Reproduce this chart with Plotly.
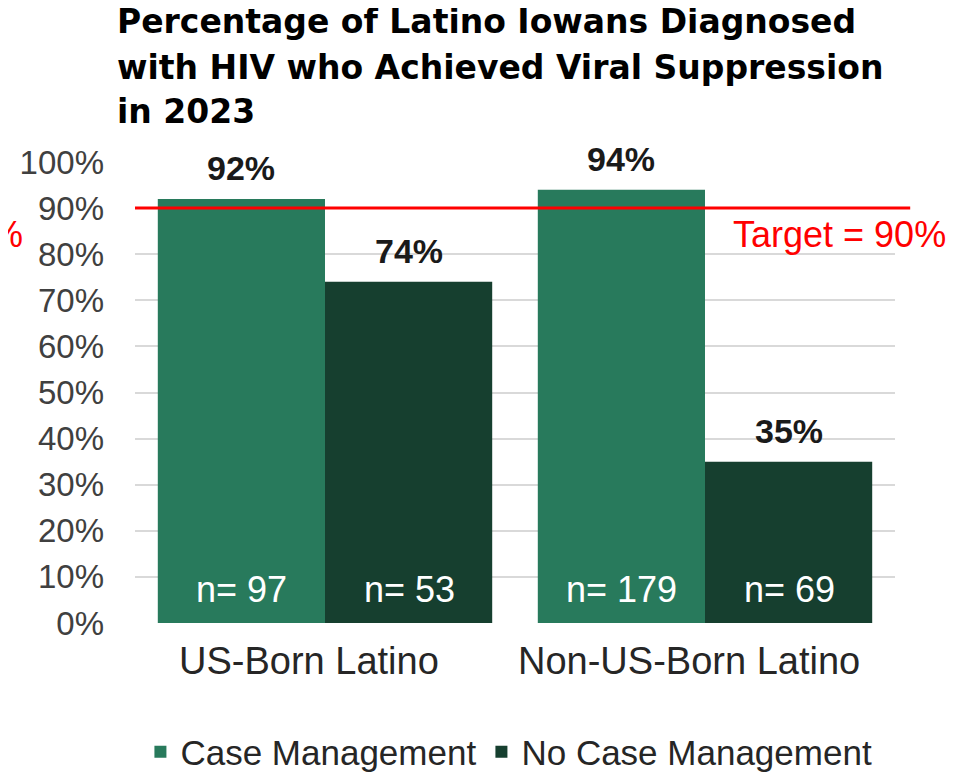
import plotly.graph_objects as go

categories = ['US-Born Latino', 'Non-US-Born Latino']
case_mgmt = [92, 94]
no_case_mgmt = [74, 35]
case_mgmt_n = [97, 179]
no_case_mgmt_n = [53, 69]
target = 90
title_lines = ['Percentage of Latino Iowans Diagnosed',
               'with HIV who Achieved Viral Suppression',
               'in 2023']

green = '#287a5c'
dark_green = '#163f2f'

fig = go.Figure()

fig.add_trace(go.Bar(x=categories, y=case_mgmt, name='Case Management',
                     marker_color=green, marker_line_width=0))
fig.add_trace(go.Bar(x=categories, y=no_case_mgmt, name='No Case Management',
                     marker_color=dark_green, marker_line_width=0))

# value labels above the bars and n= labels inside at the bottom
annotations = []
for vals, ns, shift in [(case_mgmt, case_mgmt_n, -84), (no_case_mgmt, no_case_mgmt_n, 84)]:
    for cat, v, n in zip(categories, vals, ns):
        annotations.append(dict(x=cat, y=v, xref='x', yref='y', text=f'<b>{v}%</b>',
                                showarrow=False, xshift=shift, yshift=31,
                                font=dict(size=34, color='#1a1a1a')))
        annotations.append(dict(x=cat, y=0, xref='x', yref='y', text=f'n= {n}',
                                showarrow=False, xshift=shift, yshift=34,
                                font=dict(size=36, color='white')))

# category labels sit a little left of the group centres
for cat in categories:
    annotations.append(dict(x=cat, y=0, xref='x', yref='y', text=cat, showarrow=False,
                            xshift=-16, yshift=-38, yanchor='middle',
                            font=dict(size=38, color='#262626')))

# title, one annotation per line
for line, ypos in zip(title_lines, [1.305, 1.205, 1.11]):
    annotations.append(dict(x=-0.026, y=ypos, xref='paper', yref='paper', text=f'<b>{line}</b>',
                            showarrow=False, xanchor='left', yanchor='middle',
                            font=dict(size=33, color='black', family='DejaVu Sans')))

# target line label
annotations.append(dict(x=1.07, y=target, xref='paper', yref='y', text='Target = 90%',
                        showarrow=False, xanchor='right', yshift=-26,
                        font=dict(size=36, color='#ff0000')))
# cut-off piece of text on the left edge
annotations.append(dict(x=-0.145, y=target, xref='paper', yref='y', text='%',
                        showarrow=False, xanchor='right', yshift=-26,
                        font=dict(size=36, color='#ff0000')))

fig.add_shape(type='line', xref='paper', yref='y', x0=0, x1=1.02, y0=target, y1=target,
              line=dict(color='#ff0000', width=3))

fig.update_layout(
    width=955, height=766,
    paper_bgcolor='white', plot_bgcolor='white',
    margin=dict(l=127, r=68, t=154, b=151, autoexpand=False),
    barmode='group', bargap=0.12, bargroupgap=0,
    font=dict(family='Liberation Sans'),
    yaxis=dict(range=[0, 100], dtick=10, ticksuffix='%', showgrid=True,
               gridcolor='#d9d9d9', gridwidth=2, zeroline=False, showline=False,
               tickfont=dict(size=33, color='#404040'), ticklabelstandoff=30),
    xaxis=dict(showline=False, showticklabels=False),
    legend=dict(orientation='h', x=0.492, xanchor='center', y=-0.28, yanchor='middle',
                font=dict(size=35, color='#262626'), itemwidth=30, tracegroupgap=0),
    annotations=annotations,
)

fig.write_html('out.html')
